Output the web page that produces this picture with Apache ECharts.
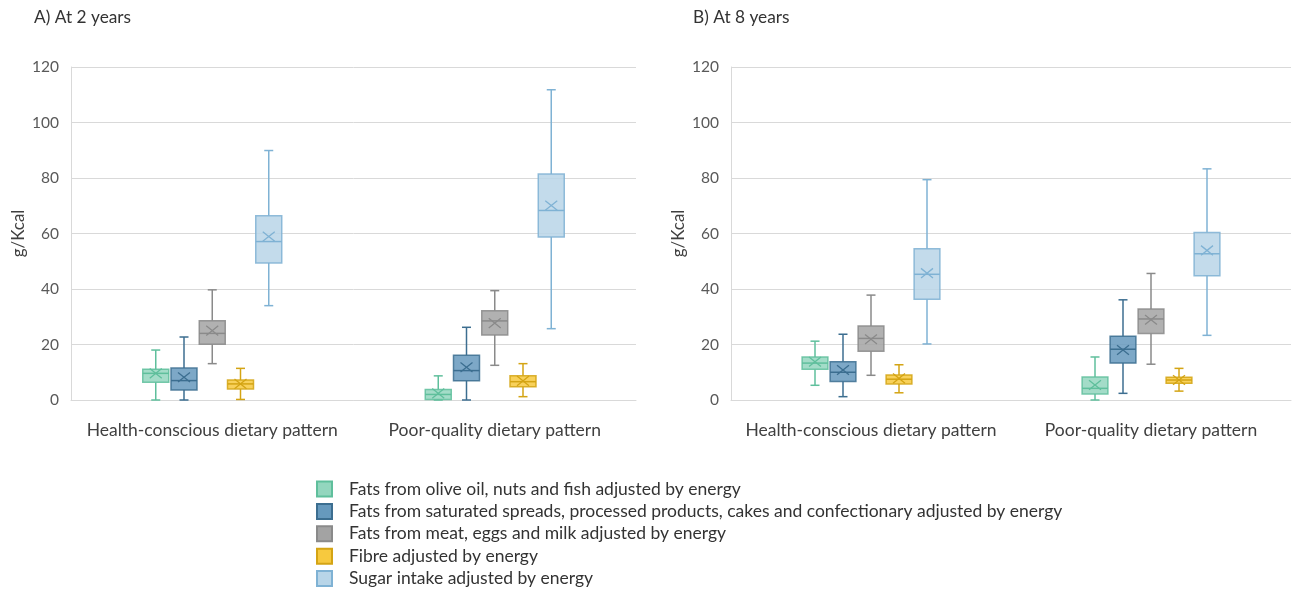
<!DOCTYPE html>
<html>
<head>
<meta charset="utf-8">
<script src="https://cdn.jsdelivr.net/npm/echarts@6/dist/echarts.min.js"></script>
<style>html,body{margin:0;padding:0;background:#fff}#c{width:1293px;height:591px}</style>
</head>
<body>
<div id="c"></div>
<script>
// Categories and labels
const categories = ['Health-conscious dietary pattern', 'Poor-quality dietary pattern'];
const panelTitles = ['A) At 2 years', 'B) At 8 years'];
const seriesNames = [
  'Fats from olive oil, nuts and fish adjusted by energy',
  'Fats from saturated spreads, processed products, cakes and confectionary adjusted by energy',
  'Fats from meat, eggs and milk adjusted by energy',
  'Fibre adjusted by energy',
  'Sugar intake adjusted by energy'
];
const yTicks = [0, 20, 40, 60, 80, 100, 120];

// Each entry: [min, Q1, median, Q3, max, mean] for [Health-conscious, Poor-quality]
// At 2 years
const olive2     = [[0, 6.4, 9.6, 11.1, 18.0, 9.6],   [0, 0.2, 2.0, 3.8, 8.7, 2.4]];
const saturated2 = [[0, 3.6, 7.0, 11.5, 22.7, 8.2],   [0, 6.9, 10.6, 16.1, 26.2, 11.8]];
const meat2      = [[13.1, 20.1, 24.0, 28.6, 39.7, 25.0], [12.5, 23.4, 28.5, 32.2, 39.4, 27.7]];
const fibre2     = [[0.2, 4.0, 5.8, 7.2, 11.4, 5.8],  [1.2, 4.8, 6.6, 8.7, 13.1, 6.9]];
const sugar2     = [[34.0, 49.4, 57.1, 66.4, 89.9, 58.9], [25.7, 58.7, 68.3, 81.4, 111.8, 70.1]];
// At 8 years
const olive8     = [[5.3, 11.1, 13.3, 15.5, 21.2, 13.8], [0, 2.2, 4.2, 8.3, 15.5, 5.4]];
const saturated8 = [[1.2, 6.7, 10.0, 13.8, 23.7, 10.8], [2.4, 13.3, 18.3, 23.0, 36.1, 18.0]];
const meat8      = [[8.9, 17.6, 22.2, 26.7, 37.8, 21.9], [12.9, 24.0, 29.2, 32.8, 45.6, 28.9]];
const fibre8     = [[2.6, 5.8, 7.5, 9.0, 12.7, 7.8],  [3.2, 6.0, 7.2, 8.2, 11.4, 7.2]];
const sugar8     = [[20.2, 36.3, 45.3, 54.5, 79.4, 45.7], [23.3, 44.8, 52.7, 60.4, 83.3, 53.9]];

const panels = [
  [olive2, saturated2, meat2, fibre2, sugar2],
  [olive8, saturated8, meat8, fibre8, sugar8]
];

const fills   = ['#93d6be', '#6699bd', '#a3a3a3', '#f7c93e', '#b8d5e8'];
const strokes = ['#5fbf9c', '#3c6e90', '#8a8a8a', '#d4a414', '#7fb2d4'];

const FONT = 'Lato, "Open Sans", sans-serif';

function makeRender(k) {
  return function (params, api) {
    const cat = api.value(0);
    const band = api.size([1, 0])[0];
    const cx = api.coord([cat, 0])[0] + (k - 2) * band * 0.1;
    const w = band * 0.092;
    const y = i => api.coord([cat, api.value(i)])[1];
    const yMin = y(1), yQ1 = y(2), yMed = y(3), yQ3 = y(4), yMax = y(5), yMean = y(6);
    const ls = { stroke: strokes[k], lineWidth: 1.5 };
    const cap = 4.5, m = 6;
    return {
      type: 'group',
      children: [
        { type: 'line', shape: { x1: cx, y1: yQ1, x2: cx, y2: yMin }, style: ls },
        { type: 'line', shape: { x1: cx, y1: yQ3, x2: cx, y2: yMax }, style: ls },
        { type: 'line', shape: { x1: cx - cap, y1: yMin, x2: cx + cap, y2: yMin }, style: ls },
        { type: 'line', shape: { x1: cx - cap, y1: yMax, x2: cx + cap, y2: yMax }, style: ls },
        { type: 'rect', shape: { x: cx - w / 2, y: yQ3, width: w, height: yQ1 - yQ3 },
          style: { fill: fills[k], opacity: 0.85, stroke: strokes[k], lineWidth: 1.5 } },
        { type: 'line', shape: { x1: cx - w / 2, y1: yMed, x2: cx + w / 2, y2: yMed }, style: ls },
        { type: 'line', shape: { x1: cx - m, y1: yMean - m * 0.8, x2: cx + m, y2: yMean + m * 0.8 }, style: { stroke: strokes[k], lineWidth: 1.3 } },
        { type: 'line', shape: { x1: cx - m, y1: yMean + m * 0.8, x2: cx + m, y2: yMean - m * 0.8 }, style: { stroke: strokes[k], lineWidth: 1.3 } }
      ]
    };
  };
}

const grids = [
  { left: 71, right: 657, top: 67, bottom: 191 },
  { left: 731, right: 2, top: 67, bottom: 191 }
];

const xAxes = grids.map((g, i) => ({
  type: 'category', gridIndex: i, data: categories,
  axisTick: { show: false },
  axisLine: { lineStyle: { color: '#d9d9d9', width: 1 } },
  axisLabel: { color: '#404040', fontSize: 17.5, fontFamily: FONT, margin: 21, interval: 0, hideOverlap: false }
}));
const yAxes = grids.map((g, i) => ({
  type: 'value', gridIndex: i, min: yTicks[0], max: yTicks[yTicks.length - 1], interval: 20,
  name: 'g/Kcal', nameLocation: 'middle', nameGap: 44, nameRotate: 90,
  nameTextStyle: { color: '#404040', fontSize: 17, fontFamily: FONT },
  axisLine: { show: true, lineStyle: { color: '#d9d9d9', width: 1 } },
  axisTick: { show: false },
  splitLine: { lineStyle: { color: '#d9d9d9', width: 1 } },
  axisLabel: { color: '#595959', fontSize: 15.5, fontFamily: FONT, margin: 12 }
}));

const series = [];
panels.forEach((panel, p) => {
  panel.forEach((arr, k) => {
    series.push({
      type: 'custom', name: seriesNames[k], xAxisIndex: p, yAxisIndex: p,
      renderItem: makeRender(k),
      itemStyle: { color: fills[k], borderColor: strokes[k], borderWidth: 1 },
      encode: { x: 0, y: [1, 2, 3, 4, 5, 6] },
      data: arr.map((v, c) => [c].concat(v))
    });
  });
});

const titleStyle = { color: '#333', fontSize: 17.3, fontWeight: 'normal', fontFamily: FONT };
const chart = echarts.init(document.getElementById('c'), null, { renderer: 'canvas' });
chart.setOption({
  animation: false,
  title: [
    { text: panelTitles[0], left: 34, top: 9, padding: 0, textStyle: titleStyle },
    { text: panelTitles[1], left: 693, top: 9, padding: 0, textStyle: titleStyle }
  ],
  grid: grids,
  xAxis: xAxes,
  yAxis: yAxes,
  legend: {
    orient: 'vertical', left: 316, top: 480, padding: 0, height: 110,
    itemWidth: 15, itemHeight: 15, itemGap: 4.4,
    icon: 'rect',
    data: seriesNames,
    textStyle: { color: '#333', fontSize: 17.5, fontFamily: FONT, padding: [0, 0, 0, 12] }
  },
  series: series
});
</script>
</body>
</html>
